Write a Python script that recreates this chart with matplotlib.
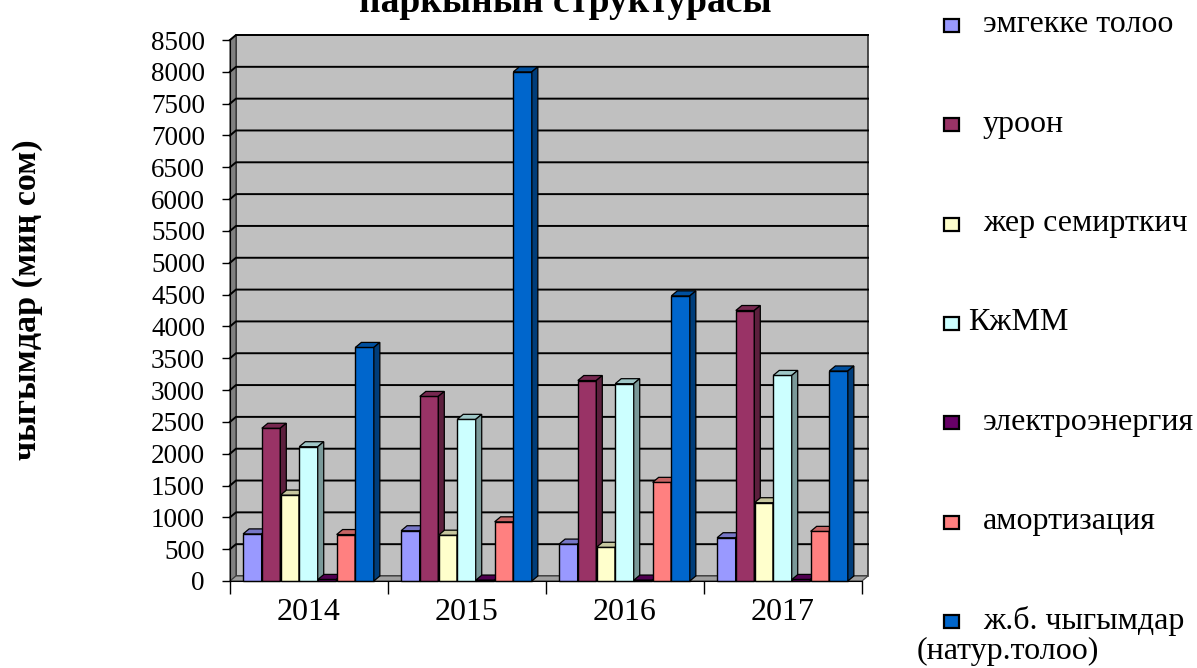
import matplotlib.pyplot as plt
import numpy as np
from matplotlib.patches import Polygon, Rectangle
from matplotlib.colors import to_rgb

plt.rcParams["font.family"] = ["Liberation Serif", "DejaVu Serif"]

YEARS = ["2014", "2015", "2016", "2017"]
SERIES = ["эмгекке толоо", "уроон", "жер семирткич", "КжММ",
          "электроэнергия", "амортизация", "ж.б. чыгымдар"]
COLORS = ["#9999FF", "#993366", "#FFFFCC", "#CCFFFF",
          "#660066", "#FF8080", "#0066CC"]

# values per series, one per year (миң сом)
emgekke = [740, 790, 580, 680]
uroon = [2400, 2900, 3150, 4250]
jer = [1350, 720, 530, 1230]
kjmm = [2110, 2540, 3100, 3230]
elektro = [25, 15, 15, 25]
amort = [730, 930, 1550, 780]
jb = [3670, 8000, 4480, 3300]
VALUES = [emgekke, uroon, jer, kjmm, elektro, amort, jb]

W, H = 1197, 668
fig = plt.figure(figsize=(W / 100, H / 100), dpi=100)
ax = fig.add_axes([230 / W, (H - 581) / H, 632 / W, 541 / H])
ax.set_xlim(0, 4)
ax.set_ylim(0, 8500)
ax.patch.set_visible(False)

# depth of the 3d look, in data units (6 px right, 5 px up)
dx = 6 / 158
dy = 5 * 8500 / 541
ymax = 8500


def shade(c, f):
    r, g, b = to_rgb(c)
    return (r * f, g * f, b * f)


# back wall, side wall and floor
ax.add_patch(Rectangle((dx, dy), 4, ymax, facecolor="#C0C0C0", edgecolor="#303030",
                       lw=1.2, zorder=0, clip_on=False))
ax.add_patch(Polygon([(0, 0), (dx, dy), (dx, ymax + dy), (0, ymax)], closed=True,
                     facecolor="#808080", edgecolor="#303030", lw=0.8, zorder=0.5, clip_on=False))
ax.add_patch(Polygon([(0, 0), (4, 0), (4 + dx, dy), (dx, dy)], closed=True,
                     facecolor="#A0A0A0", edgecolor="#404040", lw=0.8, zorder=0.5, clip_on=False))

ticks = np.arange(0, 8501, 500)
for v in ticks[1:]:
    ax.plot([0, dx, 4 + dx], [v, v + dy, v + dy], color="black", lw=1.4,
            zorder=1, clip_on=False)

# bars with top and side faces
width = 0.117
step = 0.1184
start = 0.083
x0 = np.arange(len(YEARS))
for j, (vals, col) in enumerate(zip(VALUES, COLORS)):
    z = 3 + j * 0.01
    xs = x0 + start + j * step
    ax.bar(xs, vals, width=width, align="edge", color=col, edgecolor="black",
           lw=1, zorder=z, clip_on=False)
    for xl, v in zip(xs, vals):
        xr = xl + width
        ax.add_patch(Polygon([(xl, v), (xr, v), (xr + dx, v + dy), (xl + dx, v + dy)],
                             closed=True, facecolor=shade(col, 0.78), edgecolor="black",
                             lw=0.9, zorder=z, clip_on=False))
        ax.add_patch(Polygon([(xr, 0), (xr + dx, dy), (xr + dx, v + dy), (xr, v)],
                             closed=True, facecolor=shade(col, 0.6), edgecolor="black",
                             lw=0.9, zorder=z, clip_on=False))

# axes lines, ticks, labels
for s in ["top", "right"]:
    ax.spines[s].set_visible(False)
ax.spines["left"].set_zorder(5)
ax.spines["bottom"].set_zorder(5)
ax.set_yticks(ticks)
ax.set_yticklabels([str(t) for t in ticks], fontsize=19.5)
ax.tick_params(axis="y", length=6, width=1, pad=12)
ax.set_xticks(np.arange(0, 5))
ax.set_xticklabels([])
ax.tick_params(axis="x", which="major", length=9, width=1)
ax.set_xticks(x0 + 0.5, minor=True)
ax.set_xticklabels(YEARS, minor=True, fontsize=23)
ax.tick_params(axis="x", which="minor", length=0, pad=12)

fig.text(28 / W, 1 - 300 / H, "чыгымдар (миң сом)", rotation=90, ha="center",
         va="center", fontsize=24.5, fontweight="bold")
# title sits partly above the top edge, as in the original
fig.text(565 / W, 1 - 12 / H, "паркынын структурасы", ha="center", va="baseline",
         fontsize=27, fontweight="bold")

# legend drawn by hand to keep the spacing of the original
for i, (name, col) in enumerate(zip(SERIES, COLORS)):
    yc = 25 + i * 99.3
    fig.patches.append(Rectangle((944 / W, 1 - (yc + 7) / H), 15 / W, 13 / H,
                                 facecolor=col, edgecolor="black", lw=1.6,
                                 transform=fig.transFigure, figure=fig))
    tx = 968 if name == "КжММ" else 983
    fig.text(tx / W, 1 - yc / H, name, ha="left", va="center", fontsize=23)
fig.text(917 / W, 1 - 651 / H, "(натур.толоо)", ha="left", va="center", fontsize=23)

fig.savefig("out.png", dpi=100)
